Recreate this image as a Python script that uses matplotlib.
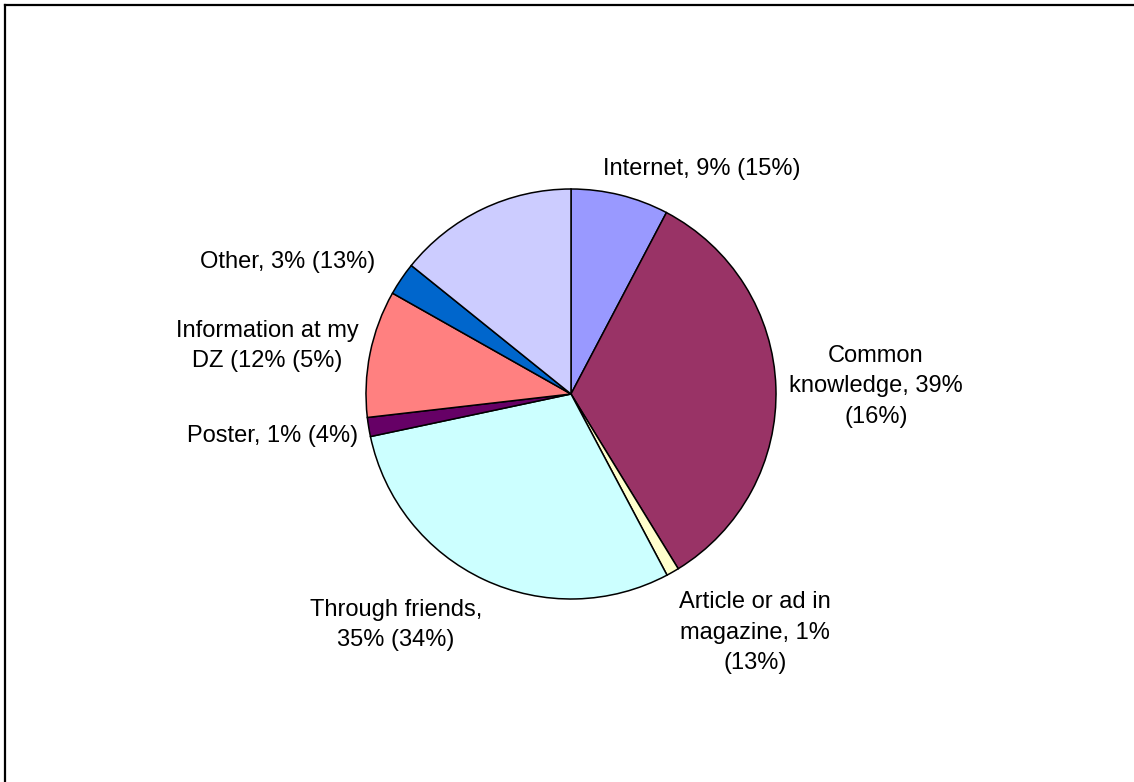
import matplotlib
matplotlib.use("Agg")
import matplotlib.pyplot as plt
from matplotlib.lines import Line2D

plt.rcParams['font.family'] = ['Liberation Sans', 'DejaVu Sans']

# slice sizes as drawn (share of the whole pie, %), clockwise from 12 o'clock
sources = ["Internet", "Common knowledge", "Article or ad in magazine", "Through friends",
           "Poster", "Information at my DZ", "Other", "(no answer)"]
shares = [7.7, 33.5, 1.0, 29.4, 1.5, 10.0, 2.6, 14.2]
colors = ["#9999FF", "#993366", "#FFFFCC", "#CCFFFF", "#660066", "#FF8080", "#0066CC", "#CCCCFF"]

# label text as printed on the chart (last slice has no label)
labels = ["Internet, 9% (15%)",
          "Common\nknowledge, 39%\n(16%)",
          "Article or ad in\nmagazine, 1%\n(13%)",
          "Through friends,\n35% (34%)",
          "Poster, 1% (4%)",
          "Information at my\nDZ (12% (5%)",
          "Other, 3% (13%)",
          ""]
# label centres in pixels (x from left, y from top)
label_x = [702, 876, 755, 396, 273, 267, 288, 0]
label_y = [169, 386, 633, 625, 436, 346, 262, 0]

W, H = 1134, 782
cx, cy, r = 571, 394, 205

fig = plt.figure(figsize=(W / 100, H / 100), dpi=100)
ax = fig.add_axes([0, 0, 1, 1])

ax.pie(shares, colors=colors, startangle=90, counterclock=False,
       center=(cx, H - cy), radius=r,
       wedgeprops=dict(edgecolor="black", linewidth=1.1))

for lab, x, y in zip(labels, label_x, label_y):
    if lab:
        ax.text(x, H - y, lab, ha="center", va="center", fontsize=17,
                linespacing=1.5, color="black")

ax.set_xlim(0, W)
ax.set_ylim(0, H)
ax.set_aspect("equal")
ax.axis("off")

# chart border (top and left edges visible in the crop)
fig.add_artist(Line2D([5 / W, 1.0], [1 - 5 / H, 1 - 5 / H], transform=fig.transFigure,
                      color="black", linewidth=1.6))
fig.add_artist(Line2D([5 / W, 5 / W], [0.0, 1 - 5 / H], transform=fig.transFigure,
                      color="black", linewidth=1.6))

fig.savefig("out.png", dpi=100, facecolor="white")
plt.close()
